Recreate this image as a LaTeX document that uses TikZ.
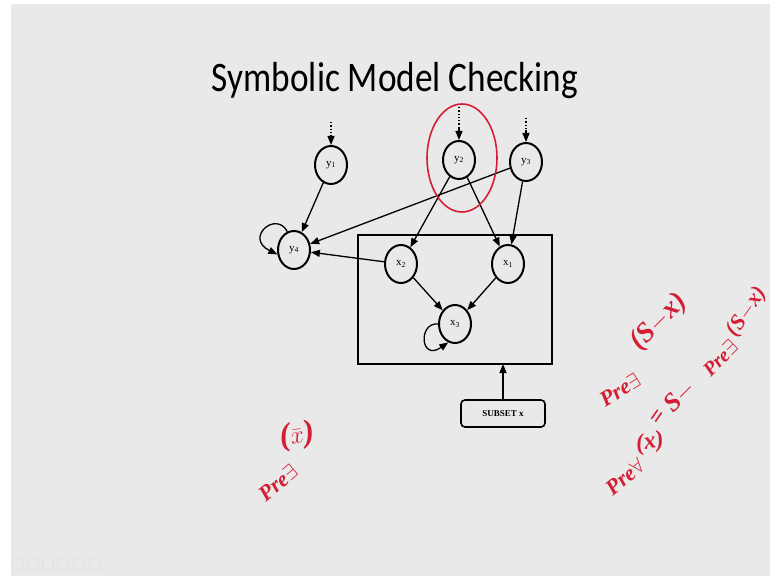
\documentclass[tikz,border=0pt]{standalone}
\usepackage{fontspec}
\setmainfont{Liberation Serif}
\newfontfamily\titlefont{Carlito}
\usetikzlibrary{arrows.meta,shapes.geometric}
\definecolor{slidebg}{RGB}{233,233,233}
\definecolor{pen}{RGB}{212,30,52}
\definecolor{toolgray}{RGB}{224,224,224}
\begin{document}
\begin{tikzpicture}[x=1pt,y=1pt,
  state/.style={ellipse,draw,line width=2pt,minimum width=32pt,minimum height=38pt,
                inner sep=0pt,font=\fontsize{11}{11}\selectfont},
  edge/.style={line width=1.3pt,-{Triangle[length=9pt,width=7pt]}},
  feed/.style={line width=1.3pt,dotted},
  ink/.style={pen,inner sep=0pt,font=\bfseries\itshape\fontsize{#1}{#1}\selectfont},
  ink/.default=22
]
\useasboundingbox (0,0) rectangle (770,576);
\fill[white] (0,0) rectangle (770,576);
\fill[slidebg] (11,0) rectangle (770,572);

% slide title
\node[font=\titlefont\fontsize{42}{42}\selectfont,anchor=base,inner sep=0pt] (title) at (395,484)
  {\scalebox{0.84}[1]{Symbolic Model Checking}};

% state variables
\node[state] (y1) at (331,411) {y\textsubscript{1}};
\node[state] (y2) at (459,416) {y\textsubscript{2}};
\node[state] (y3) at (526,414) {y\textsubscript{3}};
\node[state] (y4) at (294,326) {y\textsubscript{4}};
\node[state] (x2) at (401,312) {x\textsubscript{2}};
\node[state] (x1) at (508,312) {x\textsubscript{1}};
\node[state] (x3) at (455,252) {x\textsubscript{3}};

% subset frame and its label box
\node[draw,line width=1.3pt,minimum width=194pt,minimum height=129pt,inner sep=0pt,outer sep=0pt]
  (subsys) at (455,276.5) {};
\node[draw,rounded corners=4pt,line width=1.6pt,minimum width=84pt,minimum height=27pt,
      inner sep=0pt,font=\bfseries\fontsize{9}{9}\selectfont] (subset) at (503,162.5) {SUBSET x};
\draw[edge] (subset.north) -- (subset.north |- subsys.south);

% incoming inputs
\coordinate (y1top) at (331,454);
\coordinate (y1mid) at (331,440);
\coordinate (y2top) at (459,469);
\coordinate (y2mid) at (459,448);
\coordinate (y3top) at (526,458);
\coordinate (y3mid) at (526,446);
\draw[feed] (y1top) -- (y1mid);
\draw[feed] (y2top) -- (y2mid);
\draw[feed] (y3top) -- (y3mid);
\draw[edge] (y1mid) -- (y1);
\draw[edge] (y2mid) -- (y2);
\draw[edge] (y3mid) -- (y3);

% dependencies
\draw[edge] (y1) -- (y4);
\draw[edge] (y3) -- (y4);
\draw[edge] (x2) -- (y4);
\draw[edge] (y2) -- (x2);
\draw[edge] (y2) -- (x1);
\draw[edge] (y3) -- (x1);
\draw[edge] (x2) -- (x3);
\draw[edge] (x1) -- (x3);

% self loops
\draw[edge] (y4.110) .. controls (276,366) and (244,338) .. (y4.195);
\draw[edge] (x3.180) .. controls (418,254) and (420,214) .. (x3.250);

% pen annotations
\node[draw=pen,line width=1.6pt,ellipse,minimum width=70pt,minimum height=108pt,inner sep=0pt]
  (mark) at (462,418) {};

\node[ink=22,rotate=40] (a1) at (278,93) {Pre$\exists$};
\node[ink=32,rotate=10] (a2) at (297,140) {($\bar{x}$)};

\node[ink=22,rotate=32] (b1) at (620,186) {Pre$\exists$};
\node[ink=28,rotate=45] (b2) at (659,254) {(S$-$x)};

\node[ink=22,rotate=40] (c1) at (625,99) {Pre$\forall$};
\node[ink=24,rotate=10] (c2) at (650,133) {(x)};
\node[ink=24,rotate=55] (c3) at (659,158) {=};
\node[ink=26,rotate=45] (c4) at (680,180) {S$-$};
\node[ink=20,rotate=45] (c5) at (720,218) {Pre$\exists$};
\node[ink=22,rotate=55] (c6) at (747,264) {(S$-$x)};

% viewer toolbar
\foreach \cx/\nm in {18/t1,33/t2,48/t3,63/t4,79/t5,95/t6}
  \node[draw=toolgray,circle,line width=0.8pt,minimum size=12pt,inner sep=0pt] (\nm) at (\cx,11) {};
\end{tikzpicture}
\end{document}
